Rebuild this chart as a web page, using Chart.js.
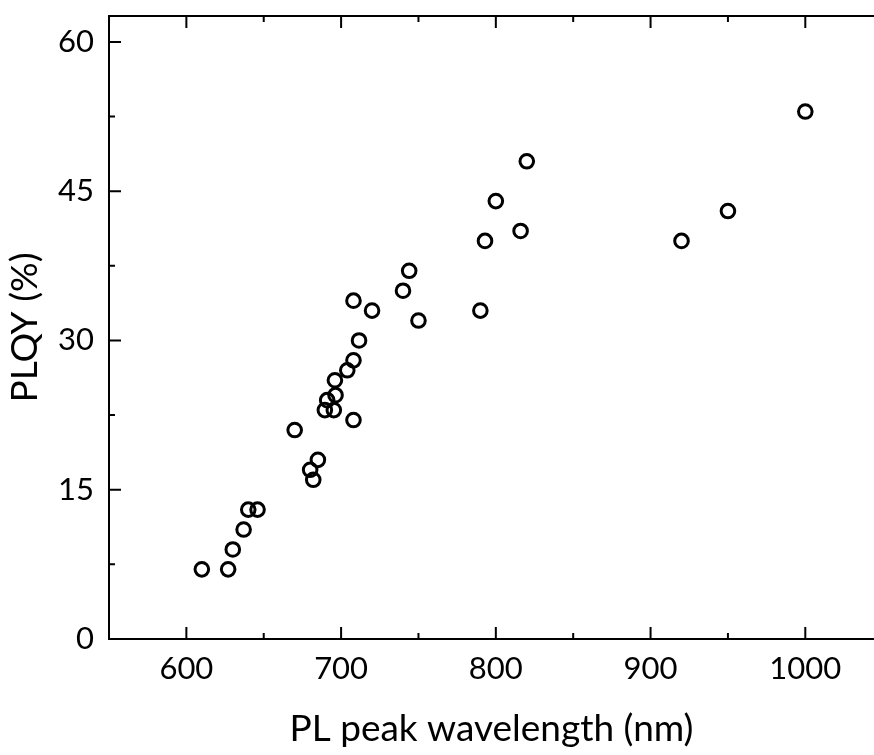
<!DOCTYPE html>
<html>
<head>
    <title>PLQY vs PL peak wavelength</title>
    <script src="https://cdn.jsdelivr.net/npm/chart.js"></script>
    <style>
        html, body { margin: 0; padding: 0; background: #fff; }
        #wrap { width: 874px; height: 755px; }
    </style>
</head>
<body>
    <div id="wrap"><canvas id="plqyChart" width="874" height="755"></canvas></div>

    <script>
        // values
        const wavelength = [610, 627, 630, 637, 640, 646, 670, 680, 682, 685,
                            689.5, 695.3, 691, 696.4, 696, 704, 708, 711.6, 708, 708,
                            720, 740, 744, 750, 790, 793, 800, 816, 820, 920, 950, 1000];
        const plqy = [7, 7, 9, 11, 13, 13, 21, 17, 16, 18,
                      23, 23, 24, 24.5, 26, 27, 28, 30, 22, 34,
                      33, 35, 37, 32, 33, 40, 44, 41, 48, 40, 43, 53];
        const xTicks = [600, 700, 800, 900, 1000];
        const xMinor = [650, 750, 850, 950];
        const yTicks = [0, 15, 30, 45, 60];
        const yMinor = [7.5, 22.5, 37.5, 52.5];

        const points = wavelength.map((w, i) => ({ x: w, y: plqy[i] }));
        const font = 'Lato, "Open Sans", sans-serif';

        // frame + inward ticks, drawn through the scales
        const framePlugin = {
            id: 'frame',
            afterDraw(chart) {
                const ctx = chart.ctx;
                const a = chart.chartArea;
                const xs = chart.scales.x, ys = chart.scales.y;
                ctx.save();
                ctx.strokeStyle = '#000';
                ctx.lineWidth = 2;
                ctx.beginPath();
                ctx.moveTo(a.right + 2, a.top);
                ctx.lineTo(a.left, a.top);
                ctx.lineTo(a.left, a.bottom);
                ctx.lineTo(a.right + 2, a.bottom);
                ctx.stroke();
                ctx.beginPath();
                xTicks.forEach(v => {
                    const px = xs.getPixelForValue(v);
                    ctx.moveTo(px, a.bottom); ctx.lineTo(px, a.bottom - 12);
                    ctx.moveTo(px, a.top); ctx.lineTo(px, a.top + 12);
                });
                xMinor.forEach(v => {
                    const px = xs.getPixelForValue(v);
                    ctx.moveTo(px, a.bottom); ctx.lineTo(px, a.bottom - 6);
                    ctx.moveTo(px, a.top); ctx.lineTo(px, a.top + 6);
                });
                yTicks.forEach(v => {
                    const py = ys.getPixelForValue(v);
                    ctx.moveTo(a.left, py); ctx.lineTo(a.left + 12, py);
                });
                yMinor.forEach(v => {
                    const py = ys.getPixelForValue(v);
                    ctx.moveTo(a.left, py); ctx.lineTo(a.left + 6, py);
                });
                ctx.stroke();
                ctx.restore();
            }
        };

        new Chart(document.getElementById('plqyChart'), {
            type: 'scatter',
            data: {
                datasets: [{
                    label: 'PLQY',
                    data: points,
                    pointStyle: 'circle',
                    pointRadius: 6.8,
                    pointBorderWidth: 3,
                    pointBorderColor: '#000',
                    pointBackgroundColor: 'rgba(0,0,0,0)'
                }]
            },
            options: {
                responsive: false,
                animation: false,
                layout: { autoPadding: false, padding: { top: 16, right: 0, left: 0, bottom: 0 } },
                plugins: {
                    legend: { display: false },
                    tooltip: { enabled: false }
                },
                scales: {
                    x: {
                        type: 'linear',
                        min: 550,
                        max: 1044.4,
                        afterBuildTicks: s => { s.ticks = xTicks.map(v => ({ value: v })); },
                        afterFit: s => { s.height = 116; s.paddingLeft = 0; s.paddingRight = 0; },
                        grid: { display: false, drawTicks: false },
                        border: { display: false },
                        ticks: {
                            color: '#000', font: { family: font, size: 31 }, padding: 11, maxRotation: 0,
                            callback: v => String(v)
                        },
                        title: {
                            display: true,
                            text: 'PL peak wavelength (nm)',
                            color: '#000',
                            font: { family: font, size: 37 },
                            padding: { top: 0, bottom: 4 }
                        }
                    },
                    y: {
                        type: 'linear',
                        min: 0,
                        max: 62.6,
                        afterBuildTicks: s => { s.ticks = yTicks.map(v => ({ value: v })); },
                        afterFit: s => { s.width = 109; s.paddingTop = 0; s.paddingBottom = 0; },
                        grid: { display: false, drawTicks: false },
                        border: { display: false },
                        ticks: {
                            color: '#000', font: { family: font, size: 31 }, padding: 15,
                            callback: v => String(v)
                        },
                        title: {
                            display: true,
                            text: 'PLQY (%)',
                            color: '#000',
                            font: { family: font, size: 37 },
                            padding: { top: 3, bottom: 0 }
                        }
                    }
                }
            },
            plugins: [framePlugin]
        });
    </script>
</body>
</html>
